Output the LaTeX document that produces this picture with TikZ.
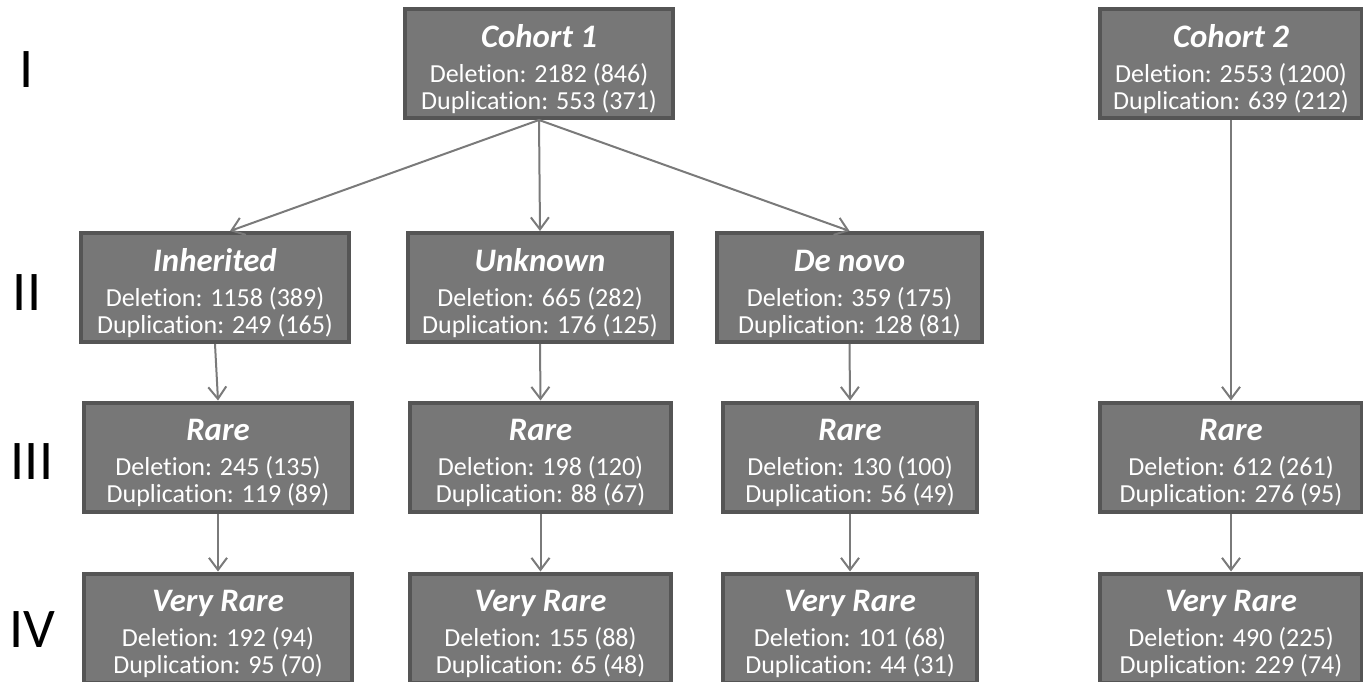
\documentclass[tikz,border=0pt]{standalone}
\usepackage{fontspec}
\setmainfont{Carlito}[Ligatures=NoCommon]
\usepackage{tikz}
\usetikzlibrary{positioning,arrows.meta}
\definecolor{boxfill}{HTML}{777777}
\definecolor{boxline}{HTML}{555555}
\definecolor{arrowgray}{HTML}{7A7A7A}
\tikzset{
  >={Straight Barb[length=6pt,width=9pt]},
  flowarrow/.style={->,line width=1pt,draw=arrowgray},
  countbox/.style={rectangle,draw=boxline,line width=2pt,fill=boxfill,text=white,align=center,minimum width=#1,minimum height=54.5pt,inner sep=0pt,font=\fontsize{13}{13.5}\selectfont},
  countbox/.default=131pt,
  stage/.style={font=\fontsize{28}{30}\selectfont}
}
\newcommand{\boxtitle}[1]{{\fontsize{16.4}{18}\selectfont\bfseries\itshape\rule{0pt}{17pt}#1}\\[4pt]}

\begin{document}
\begin{tikzpicture}[x=0.5pt,y=-0.5pt]
    \useasboundingbox (0,0) rectangle (1363,681);
    % Stufen
    \foreach \y/\lab/\x in {70/I/27,293/II/27,462/III/32,630/IV/32}
        \node[stage] (l\lab) at (\x,\y) {\lab};

    % Kohorten
    \node[countbox=134pt] (c1) at (539,63.5) {\boxtitle{Cohort 1}Deletion: 2182 (846)\\Duplication: 553 (371)};
    \node[countbox=131pt] (c2) at (1231,63.5) {\boxtitle{Cohort 2}Deletion: 2553 (1200)\\Duplication: 639 (212)};

    % Vererbung
    \node[countbox=134pt] (inh) at (215,287.5) {\boxtitle{Inherited}Deletion: 1158 (389)\\Duplication: 249 (165)};
    \node[countbox=132pt] (unk) at (540,287.5) {\boxtitle{Unknown}Deletion: 665 (282)\\Duplication: 176 (125)};
    \node[countbox=132.5pt] (dnv) at (849.5,287.5) {\boxtitle{De novo}Deletion: 359 (175)\\Duplication: 128 (81)};

    % selten
    \node[countbox=134pt] (r1) at (218,457) {\boxtitle{Rare}Deletion: 245 (135)\\Duplication: 119 (89)};
    \node[countbox=130.5pt] (r2) at (540.5,457) {\boxtitle{Rare}Deletion: 198 (120)\\Duplication: 88 (67)};
    \node[countbox=127pt] (r3) at (850,457) {\boxtitle{Rare}Deletion: 130 (100)\\Duplication: 56 (49)};
    \node[countbox=131pt] (r4) at (1231,457) {\boxtitle{Rare}Deletion: 612 (261)\\Duplication: 276 (95)};

    % sehr selten
    \node[countbox=134pt] (vr1) at (218,628) {\boxtitle{Very Rare}Deletion: 192 (94)\\Duplication: 95 (70)};
    \node[countbox=130.5pt] (vr2) at (540.5,628) {\boxtitle{Very Rare}Deletion: 155 (88)\\Duplication: 65 (48)};
    \node[countbox=127pt] (vr3) at (850,628) {\boxtitle{Very Rare}Deletion: 101 (68)\\Duplication: 44 (31)};
    \node[countbox=131pt] (vr4) at (1231,628) {\boxtitle{Very Rare}Deletion: 490 (225)\\Duplication: 229 (74)};

    \draw[flowarrow] (c1.south) -- ([xshift=7.5pt]inh.north);
    \draw[flowarrow] (c1.south) -- (unk.north);
    \draw[flowarrow] (c1.south) -- (dnv.north);
    \draw[flowarrow] (c2.south) -- (r4.north);
    \draw[flowarrow] (inh.south) -- (r1.north);
    \draw[flowarrow] (unk.south) -- (r2.north);
    \draw[flowarrow] (dnv.south) -- (r3.north);
    \foreach \i in {1,2,3,4}
        \draw[flowarrow] (r\i.south) -- (vr\i.north);
\end{tikzpicture}
\end{document}
